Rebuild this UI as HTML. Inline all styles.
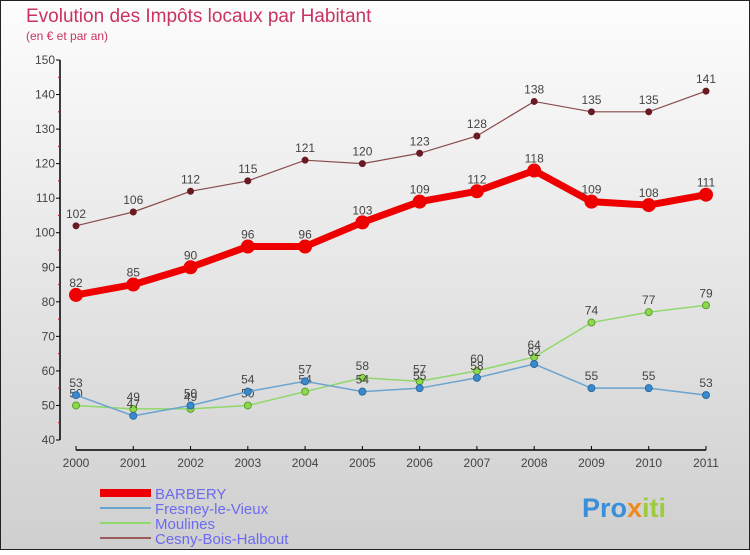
<!DOCTYPE html>
<html><head><meta charset="utf-8"><style>
body{margin:0}
#c{width:750px;height:550px;position:relative;font-family:"Liberation Sans",sans-serif}
svg text{font-family:"Liberation Sans",sans-serif}
</style></head><body>
<div id="c">
<svg id="s" width="750" height="550" xmlns="http://www.w3.org/2000/svg">
<defs><linearGradient id="bg" x1="0" y1="0" x2="0" y2="1"><stop offset="0" stop-color="#fdfdfd"/><stop offset="1" stop-color="#cfcfcf"/></linearGradient></defs>
<rect x="0.5" y="0.5" width="749" height="549" fill="url(#bg)" stroke="#222"/>
<text x="26" y="22" font-size="19" fill="#c8335f">Evolution des Impôts locaux par Habitant</text>
<text x="26" y="40" font-size="12" fill="#c8335f">(en € et par an)</text>
<g id="axes"></g><g id="series"></g>
<g>
<rect x="100" y="489" width="51" height="8" fill="#e00"/>
<text x="155" y="499" font-size="15" fill="#6b6bf0">BARBERY</text>
<rect x="100" y="507" width="51" height="2" fill="#6aa4d0"/>
<text x="155" y="514" font-size="15" fill="#6b6bf0">Fresney-le-Vieux</text>
<rect x="100" y="522" width="51" height="2" fill="#8fd86a"/>
<text x="155" y="529" font-size="15" fill="#6b6bf0">Moulines</text>
<rect x="100" y="537" width="51" height="2" fill="#9a5a5a"/>
<text x="155" y="544" font-size="15" fill="#6b6bf0">Cesny-Bois-Halbout</text>
</g>
<g><text x="582" y="517" font-size="27" font-weight="bold" fill="#3a8fd8">Pro<tspan fill="#f08a1c">x</tspan><tspan fill="#9ccc3c">iti</tspan></text></g>
</svg></div>
<script>
const years=[2000,2001,2002,2003,2004,2005,2006,2007,2008,2009,2010,2011];
const barbery=[82,85,90,96,96,103,109,112,118,109,108,111];
const fresney=[53,47,50,54,57,54,55,58,62,55,55,53];
const moulines=[50,49,49,50,54,58,57,60,64,74,77,79];
const cesny=[102,106,112,115,121,120,123,128,138,135,135,141];
const yTicks=[40,50,60,70,80,90,100,110,120,130,140,150];
const NS="http://www.w3.org/2000/svg";
const X=i=>76+i*(630/11), Y=v=>440-(v-40)*(380/110);
function el(t,a,p){const e=document.createElementNS(NS,t);for(const k in a)e.setAttribute(k,a[k]);p.appendChild(e);return e;}
const ax=document.getElementById('axes');
let e=el('line',{x1:60,y1:60,x2:60,y2:440,stroke:'#000','stroke-width':1.5},ax);


e=el('line',{x1:76,y1:450,x2:706,y2:450,stroke:'#000','stroke-width':1.5},ax);


yTicks.forEach(v=>{el('line',{x1:56,y1:Y(v),x2:60,y2:Y(v),stroke:'#000'},ax);
 if(v<150)el('line',{x1:58,y1:Y(v+5),x2:60,y2:Y(v+5),stroke:'#e00'},ax);
 const t=el('text',{x:55,y:Y(v)+4,'font-size':12,fill:'#444','text-anchor':'end'},ax);t.textContent=v;
 
 });
years.forEach((y,i)=>{el('line',{x1:X(i),y1:446,x2:X(i),y2:450,stroke:'#000'},ax);
 const t=el('text',{x:X(i),y:467,'font-size':12,fill:'#444','text-anchor':'middle'},ax);t.textContent=y;
 
 });
const sg=document.getElementById('series');
function series(d,name,col,lw,r,dot,dotStroke){
 const g=el('g',{},sg);
 
 
 el('polyline',{points:d.map((v,i)=>X(i)+','+Y(v)).join(' '),fill:'none',stroke:col,'stroke-width':lw},g);
 d.forEach((v,i)=>{const c=el('circle',{cx:X(i),cy:Y(v),r:r,fill:dot,stroke:dotStroke,'stroke-width':1},g);
  
  
  const t=el('text',{x:X(i),y:Y(v)-8,'font-size':12,fill:'#444','text-anchor':'middle'},g);t.textContent=v;
  
  });
}
series(cesny,'cesny','#8a4a4a',1.2,3,'#6a1a22','#6a1a22');
series(moulines,'moulines','#8fd86a',1.5,3.5,'#8fd84a','#5aa030');
series(fresney,'fresney','#6aa4d0',1.5,3.5,'#3a8ad0','#2a6aa0');
series(barbery,'barbery','#ee0000',7,6.5,'#ee0000','#ee0000');
</script>
</body></html>
